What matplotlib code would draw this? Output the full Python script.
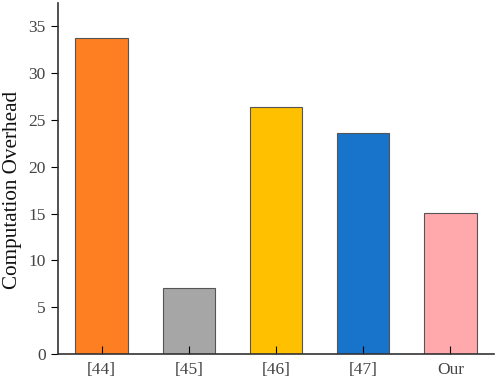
import matplotlib
matplotlib.use("Agg")
import matplotlib.pyplot as plt

categories = ["[44]", "[45]", "[46]", "[47]", "Our"]
overhead = [33.8, 7.0, 26.4, 23.6, 15.1]
colors = ["#FE7F22", "#A6A6A6", "#FFC000", "#1874CA", "#FFA9AD"]

plt.rcParams["font.family"] = ["Liberation Serif", "DejaVu Serif"]

fig = plt.figure(figsize=(4.98, 3.78), dpi=100)
ax = fig.add_axes([0.1165, 0.0635, 0.8755, 0.9285])

x = range(len(categories))
ax.bar(x, overhead, width=0.6, color=colors, edgecolor="#555555", linewidth=0.8)

ax.set_xlim(-0.5, 4.5)
ax.set_ylim(0, 37.5)
ax.set_xticks(list(x))
ax.set_xticklabels(categories, fontsize=12.5, color="#444444")
ax.set_yticks(range(0, 40, 5))
ax.tick_params(axis="y", labelsize=12.5, labelcolor="#444444", direction="out", length=5, pad=4)
ax.tick_params(axis="x", direction="in", length=6, pad=6)
ax.set_ylabel("Computation Overhead", fontsize=15.2, color="#111111")
ax.yaxis.set_label_coords(-0.083, 0.467)

for s in ["top", "right"]:
    ax.spines[s].set_visible(False)
for s in ["left", "bottom"]:
    ax.spines[s].set_color("#333333")
    ax.spines[s].set_linewidth(1.2)

fig.savefig("out.png", dpi=100)
